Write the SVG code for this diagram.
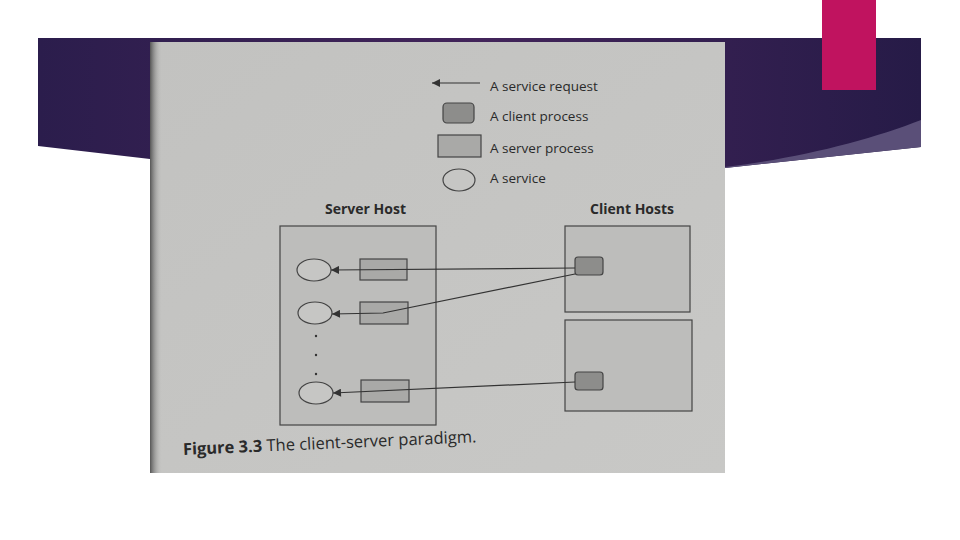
<svg xmlns="http://www.w3.org/2000/svg" width="960" height="540" viewBox="0 0 960 540">
<defs>
<linearGradient id="band" x1="0" y1="0" x2="1" y2="0">
<stop offset="0" stop-color="#2b1d4c"/>
<stop offset="0.5" stop-color="#42245a"/>
<stop offset="1" stop-color="#261b47"/>
</linearGradient>
<linearGradient id="page" x1="0" y1="0" x2="1" y2="1">
<stop offset="0" stop-color="#c2c2c0"/>
<stop offset="1" stop-color="#c8c8c6"/>
</linearGradient>
<linearGradient id="shadow" x1="0" y1="0" x2="1" y2="0">
<stop offset="0" stop-color="#555555"/>
<stop offset="1" stop-color="#c2c2c0" stop-opacity="0"/>
</linearGradient>
<marker id="ah" viewBox="0 0 10 10" refX="10" refY="5" markerWidth="10" markerHeight="8" markerUnits="userSpaceOnUse" orient="auto">
<path d="M0,0 L10,5 L0,10 z" fill="#333"/>
</marker>
<style>
.t{font-family:"Open Sans","Liberation Sans",sans-serif;font-size:13.5px;fill:#2a2a2a}
.b{font-family:"Open Sans","Liberation Sans",sans-serif;font-size:14px;font-weight:bold;fill:#2a2a2a}
.host{fill:#bdbdbb;stroke:#444;stroke-width:1.2}
.cp{fill:#8d8d8b;stroke:#444;stroke-width:1.2}
.sp{fill:#a9a9a7;stroke:#444;stroke-width:1.2}
.sv{fill:#c6c6c4;stroke:#444;stroke-width:1.2}
.ln{fill:none;stroke:#333;stroke-width:1.2;marker-end:url(#ah)}
</style>
</defs>
<rect width="960" height="540" fill="#ffffff"/>
<!-- slide band -->
<path d="M38,38 L921,38 L921,147 L725,168 L150,159 L38,146 Z" fill="url(#band)"/>
<path d="M725,167 C800,158 870,140 921,120 L921,147 L725,168 Z" fill="#5a4f78"/>
<rect x="822" y="0" width="54" height="90" fill="#c0135f"/>
<!-- photo page -->
<rect x="150" y="42" width="575" height="431" fill="url(#page)"/>
<rect x="150" y="42" width="12" height="431" fill="url(#shadow)"/>

<!-- legend -->
<g id="legend">
<line class="ln" x1="480" y1="83" x2="432" y2="83"/>
<text class="t" x="490" y="91">A service request</text>
<rect class="cp" x="443" y="103" width="31" height="20" rx="4"/>
<text class="t" x="490" y="121">A client process</text>
<rect class="sp" x="438" y="135" width="43" height="22"/>
<text class="t" x="490" y="153">A server process</text>
<ellipse class="sv" cx="459" cy="180" rx="16" ry="11"/>
<text class="t" x="490" y="183">A service</text>
</g>

<!-- server host -->
<g id="server-host">
<text class="b" x="325" y="214">Server Host</text>
<rect class="host" x="280" y="226" width="156" height="199"/>
</g>
<g id="service-1"><ellipse class="sv" cx="314" cy="270" rx="17" ry="11"/></g>
<g id="service-2"><ellipse class="sv" cx="315" cy="313" rx="17" ry="11"/></g>
<g id="service-3"><ellipse class="sv" cx="316" cy="393" rx="17" ry="11"/></g>
<g id="dots" fill="#333">
<circle cx="316" cy="336" r="1.2"/>
<circle cx="316" cy="355" r="1.2"/>
<circle cx="316" cy="374" r="1.2"/>
</g>
<g id="server-process-1"><rect class="sp" x="360" y="259" width="47" height="21"/></g>
<g id="server-process-2"><rect class="sp" x="360" y="302" width="48" height="22"/></g>
<g id="server-process-3"><rect class="sp" x="361" y="380" width="48" height="22"/></g>

<!-- client hosts -->
<g id="client-hosts-label"><text class="b" x="590" y="214">Client Hosts</text></g>
<g id="client-host-1">
<rect class="host" x="565" y="226" width="125" height="86"/>
<rect class="cp" x="575" y="257" width="28" height="18" rx="3"/>
</g>
<g id="client-host-2">
<rect class="host" x="565" y="320" width="127" height="91"/>
<rect class="cp" x="575" y="372" width="28" height="18" rx="3"/>
</g>

<!-- connectors -->
<g id="connectors">
<path class="ln" d="M575,268 L331,270"/>
<path class="ln" d="M575,274 L383,313 L332,314"/>
<path class="ln" d="M575,382 L333,393"/>
</g>

<!-- caption -->
<g id="caption" transform="rotate(-2.5 183 452)">
<text x="183" y="455" font-family="'Open Sans','Liberation Sans',sans-serif" font-size="16.5" fill="#2a2a2a"><tspan font-weight="bold">Figure 3.3</tspan> The client-server paradigm.</text>
</g>
</svg>
